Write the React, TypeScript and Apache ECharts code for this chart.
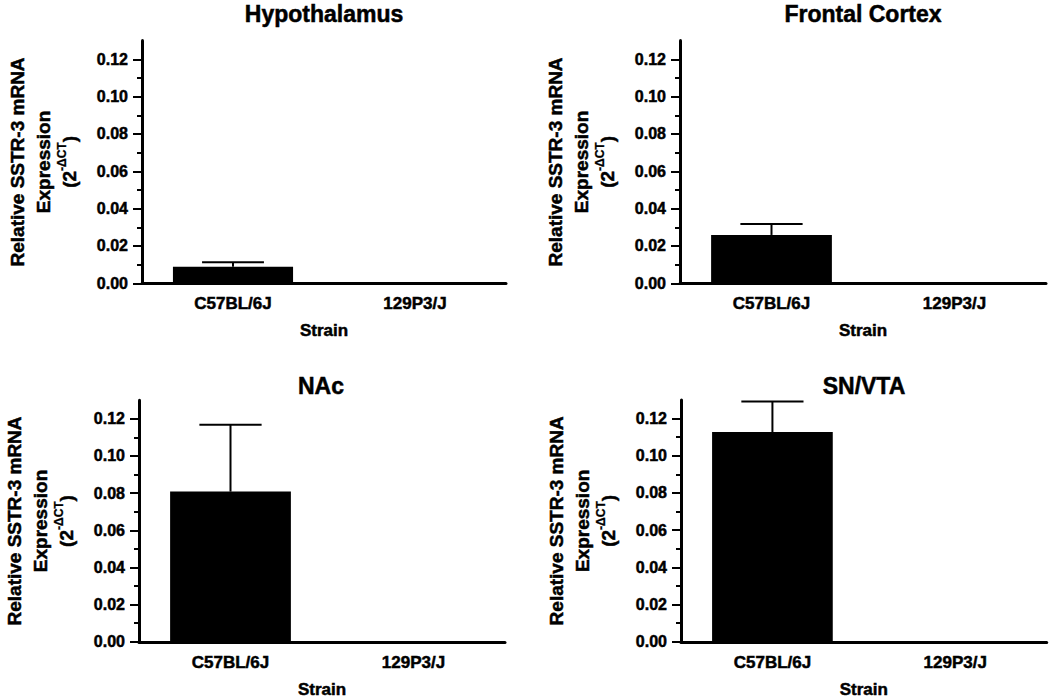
import React, { useEffect, useRef } from "react";
import * as echarts from "echarts";

// ---- Data ----
const strains = ["C57BL/6J", "129P3/J"];
const regionTitles = ["Hypothalamus", "Frontal Cortex", "NAc", "SN/VTA"];

const hypothalamusMean = [0.0089, 0];
const hypothalamusSem = [0.0024, 0];
const frontalCortexMean = [0.0259, 0];
const frontalCortexSem = [0.0059, 0];
const nacMean = [0.0808, 0];
const nacSem = [0.036, 0];
const snvtaMean = [0.1128, 0];
const snvtaSem = [0.0164, 0];

const yTickLabels = [0, 0.02, 0.04, 0.06, 0.08, 0.1, 0.12];
const yMinorTicks = [0, 0.01, 0.02, 0.03, 0.04, 0.05, 0.06, 0.07, 0.08, 0.09, 0.1, 0.11, 0.12];
const yMax = 0.13;

const xAxisName = "Strain";
const yAxisName = "Relative SSTR-3 mRNA\nExpression\n(2{sup|-ΔCT})";

const means = [hypothalamusMean, frontalCortexMean, nacMean, snvtaMean];
const sems = [hypothalamusSem, frontalCortexSem, nacSem, snvtaSem];

// ---- Layout ----
const gridBoxes = [
  { left: 142, top: 40.6, width: 364, height: 242.7 },
  { left: 680, top: 40.6, width: 366, height: 242.7 },
  { left: 137, top: 400.2, width: 368, height: 244.1 },
  { left: 681, top: 400, width: 365.7, height: 243.3 },
];
const titlePos = [
  [324, 14],
  [863, 14],
  [321, 386],
  [864, 386],
];

const FONT = "'Liberation Sans', Arial, Helvetica, sans-serif";
const heavy = { textBorderColor: "#000", textBorderWidth: 0.5 };

export default function App() {
  const ref = useRef<HTMLDivElement>(null);

  useEffect(() => {
    if (!ref.current) return;
    const chart = echarts.init(ref.current, undefined, { renderer: "svg" });

    const grid: any[] = [];
    const xAxis: any[] = [];
    const yAxis: any[] = [];
    const series: any[] = [];
    const graphic: any[] = [];

    gridBoxes.forEach((g, i) => {
      grid.push({ ...g, containLabel: false });
      xAxis.push({
        type: "category",
        gridIndex: i,
        data: strains,
        name: xAxisName,
        nameLocation: "middle",
        nameGap: 39,
        nameTextStyle: { fontFamily: FONT, fontWeight: "bold", fontSize: 17, color: "#000", ...heavy },
        axisLine: { lineStyle: { color: "#000", width: 3 } },
        axisTick: { alignWithLabel: true, length: 7, lineStyle: { color: "#000", width: 2 } },
        axisLabel: { fontFamily: FONT, fontWeight: "bold", fontSize: 17, color: "#000", margin: 12, ...heavy },
        splitLine: { show: false },
        z: 5,
      });
      // main y axis: line, labels, major ticks
      yAxis.push({
        type: "value",
        gridIndex: i,
        min: 0,
        max: yMax,
        interval: 0.01,
        name: yAxisName,
        nameLocation: "middle",
        nameGap: 60,
        nameTextStyle: {
          fontFamily: FONT,
          fontWeight: "bold",
          fontSize: 19,
          color: "#000",
          lineHeight: 26,
          ...heavy,
          rich: {
            sup: {
              fontFamily: FONT,
              fontWeight: "bold",
              fontSize: 12,
              color: "#000",
              verticalAlign: "top",
              lineHeight: 12,
              textBorderColor: "#000",
              textBorderWidth: 0.3,
            },
          },
        },
        axisLine: { show: true, lineStyle: { color: "#000", width: 3 } },
        axisTick: { show: true, length: 9, customValues: yTickLabels, lineStyle: { color: "#000", width: 2 } },
        axisLabel: {
          fontFamily: FONT,
          fontWeight: "bold",
          fontSize: 16,
          color: "#000",
          margin: 14,
          customValues: yTickLabels,
          formatter: (v: number) => v.toFixed(2),
          ...heavy,
        },
        splitLine: { show: false },
        z: 5,
      });
      // minor tick overlay axis
      yAxis.push({
        type: "value",
        gridIndex: i,
        min: 0,
        max: yMax,
        interval: 0.01,
        position: "left",
        axisLine: { show: false },
        axisTick: { show: true, length: 5, customValues: yMinorTicks, lineStyle: { color: "#000", width: 2 } },
        axisLabel: { show: false },
        splitLine: { show: false },
      });

      series.push({
        type: "bar",
        xAxisIndex: i,
        yAxisIndex: i * 2,
        data: means[i],
        barWidth: "66%",
        itemStyle: { color: "#000" },
        z: 2,
      });
      series.push({
        type: "custom",
        xAxisIndex: i,
        yAxisIndex: i * 2,
        data: means[i].map((m, k) => [k, m, sems[i][k]]),
        z: 3,
        renderItem: (params: any, api: any) => {
          const idx = api.value(0);
          const m = api.value(1);
          const e = api.value(2);
          if (!e) return { type: "group", children: [] };
          const base = api.coord([idx, m]);
          const top = api.coord([idx, m + e]);
          const bw = api.size([1, 0])[0];
          const half = bw * 0.17;
          const style = { stroke: "#000", lineWidth: 2 };
          return {
            type: "group",
            children: [
              { type: "line", shape: { x1: base[0], y1: base[1], x2: top[0], y2: top[1] }, style },
              { type: "line", shape: { x1: top[0] - half, y1: top[1], x2: top[0] + half, y2: top[1] }, style },
            ],
          };
        },
      });

      graphic.push({
        type: "text",
        x: titlePos[i][0],
        y: titlePos[i][1],
        style: {
          text: regionTitles[i],
          fontFamily: FONT,
          fontWeight: "bold",
          fontSize: 23,
          fill: "#000",
          stroke: "#000",
          lineWidth: 0.5,
          textAlign: "center",
          textVerticalAlign: "middle",
        },
      });
    });

    chart.setOption({
      animation: false,
      backgroundColor: "#fff",
      grid,
      xAxis,
      yAxis,
      series,
      graphic,
    });

    return () => chart.dispose();
  }, []);

  return (
    <div
      ref={ref}
      style={{ position: "fixed", left: 0, top: 0, width: 1050, height: 699, background: "#fff" }}
    />
  );
}
